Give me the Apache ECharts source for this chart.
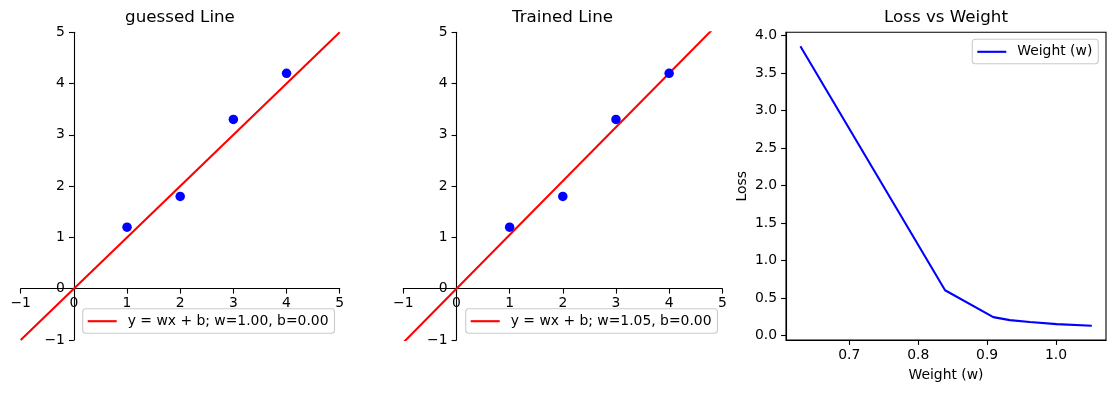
<!DOCTYPE html>
<html>
<head>
<meta charset="utf-8">
<script src="https://cdn.jsdelivr.net/npm/echarts@6/dist/echarts.min.js"></script>
<style>
  html, body { margin: 0; padding: 0; background: #fff; }
  #chart { width: 1115px; height: 393px; }
</style>
</head>
<body>
<div id="chart"></div>
<script>
// ---- data ----
const pointsX = [1, 2, 3, 4];
const pointsY = [1.2, 1.8, 3.3, 4.2];
const lineX = [-1, 5];
const guessedLineY = [-1, 5];
const trainedLineY = [-1.05, 5.25];
const guessedLabel = 'y = wx + b; w=1.00, b=0.00';
const trainedLabel = 'y = wx + b; w=1.05, b=0.00';
const weights = [0.629, 0.839, 0.909, 0.933, 0.962, 1.001, 1.052];
const losses = [3.858, 0.606, 0.248, 0.208, 0.182, 0.155, 0.133];
const lossXTicks = [0.7, 0.8, 0.9, 1.0];
const lossYTicks = [0.0, 0.5, 1.0, 1.5, 2.0, 2.5, 3.0, 3.5, 4.0];

// ---- styles ----
const FONT = 'DejaVu Sans';
const FS = 13.9;
const AXW = 1.1;
const GRID_W = 319, GRID_H = 307.7;
const minusFmt = v => (v < 0 ? '\u2212' + Math.abs(v) : String(v));
const zip = (a, b) => a.map((v, i) => [v, b[i]]);

// spines placed at data zero: shift axis inward by the distance from the grid edge to zero
function lineAxis(isX) {
  const zeroOffset = isX ? -GRID_H * (1 / 6) : -GRID_W * (1 / 6);
  return {
    type: 'value', min: -1, max: 5, interval: 1,
    position: isX ? 'bottom' : 'left',
    offset: zeroOffset,
    splitLine: { show: false },
    axisLine: { show: true, onZero: false, lineStyle: { color: '#000', width: AXW } },
    axisTick: { show: true, length: 4.9, lineStyle: { color: '#000', width: AXW } },
    axisLabel: { color: '#000', fontFamily: FONT, fontSize: FS, margin: isX ? 8 : 9, formatter: minusFmt }
  };
}

const gridBase = { top: 32.3, height: GRID_H, width: GRID_W, containLabel: false, outerBoundsMode: 'none' };

function legendFor(name, pos) {
  return Object.assign({
    data: [{ name: name, icon: 'rect' }],
    orient: 'horizontal',
    itemWidth: 29, itemHeight: 2.1,
    padding: [5.5, 6, 5, 5],
    backgroundColor: 'rgba(255,255,255,0.8)',
    borderColor: '#cccccc', borderWidth: 1.1, borderRadius: 3,
    textStyle: { color: '#000', fontFamily: FONT, fontSize: FS, padding: [0, 0, 0, 6] },
    selectedMode: false
  }, pos);
}

const titleStyle = { color: '#000', fontFamily: FONT, fontSize: 16.7, fontWeight: 'normal' };

const option = {
  animation: false,
  backgroundColor: '#fff',
  title: [
    { text: 'guessed Line', left: 180, top: 9, textAlign: 'center', padding: 0, textStyle: titleStyle },
    { text: 'Trained Line', left: 562.5, top: 9, textAlign: 'center', padding: 0, textStyle: titleStyle },
    { text: 'Loss vs Weight', left: 946, top: 9, textAlign: 'center', padding: 0, textStyle: titleStyle }
  ],
  legend: [
    legendFor(guessedLabel, { left: 82.7, top: 308.7 }),
    legendFor(trainedLabel, { left: 465.7, top: 308.7 }),
    legendFor('Weight (w)', { right: 16.7, top: 39.3 })
  ],
  grid: [
    Object.assign({ left: 20.7 }, gridBase),
    Object.assign({ left: 403.3 }, gridBase),
    { left: 786, top: 32.3, width: 320, height: GRID_H, containLabel: false, outerBoundsMode: 'none',
      show: true, borderColor: '#000', borderWidth: AXW, backgroundColor: 'transparent' }
  ],
  xAxis: [
    Object.assign({ gridIndex: 0 }, lineAxis(true)),
    Object.assign({ gridIndex: 1 }, lineAxis(true)),
    {
      gridIndex: 2, type: 'value', min: 0.6081, max: 1.0726,
      name: 'Weight (w)', nameLocation: 'middle', nameGap: 28,
      nameTextStyle: { color: '#000', fontFamily: FONT, fontSize: FS },
      splitLine: { show: false },
      axisLine: { show: true, onZero: false, lineStyle: { color: '#000', width: AXW } },
      axisTick: { show: true, length: 4.9, customValues: lossXTicks, lineStyle: { color: '#000', width: AXW } },
      axisLabel: { color: '#000', fontFamily: FONT, fontSize: FS, margin: 8, customValues: lossXTicks,
        formatter: v => v.toFixed(1) }
    }
  ],
  yAxis: [
    Object.assign({ gridIndex: 0 }, lineAxis(false)),
    Object.assign({ gridIndex: 1 }, lineAxis(false)),
    {
      gridIndex: 2, type: 'value', min: -0.057, max: 4.045,
      name: 'Loss', nameLocation: 'middle', nameGap: 37, nameRotate: 90,
      nameTextStyle: { color: '#000', fontFamily: FONT, fontSize: FS },
      splitLine: { show: false },
      axisLine: { show: true, onZero: false, lineStyle: { color: '#000', width: AXW } },
      axisTick: { show: true, length: 4.9, customValues: lossYTicks, lineStyle: { color: '#000', width: AXW } },
      axisLabel: { color: '#000', fontFamily: FONT, fontSize: FS, margin: 9, customValues: lossYTicks,
        formatter: v => v.toFixed(1) }
    }
  ],
  series: [
    { type: 'scatter', xAxisIndex: 0, yAxisIndex: 0, data: zip(pointsX, pointsY),
      symbolSize: 9.5, itemStyle: { color: '#0000ff', opacity: 1 }, z: 3 },
    { name: guessedLabel, type: 'line', xAxisIndex: 0, yAxisIndex: 0, data: zip(lineX, guessedLineY),
      showSymbol: false, symbol: 'none', clip: true, color: '#ff0000', lineStyle: { color: '#ff0000', width: 2.08 }, z: 2 },
    { type: 'scatter', xAxisIndex: 1, yAxisIndex: 1, data: zip(pointsX, pointsY),
      symbolSize: 9.5, itemStyle: { color: '#0000ff', opacity: 1 }, z: 3 },
    { name: trainedLabel, type: 'line', xAxisIndex: 1, yAxisIndex: 1, data: zip(lineX, trainedLineY),
      showSymbol: false, symbol: 'none', clip: true, color: '#ff0000', lineStyle: { color: '#ff0000', width: 2.08 }, z: 2 },
    { name: 'Weight (w)', type: 'line', xAxisIndex: 2, yAxisIndex: 2, data: zip(weights, losses),
      showSymbol: false, symbol: 'none', clip: true, color: '#0000ff', lineStyle: { color: '#0000ff', width: 2.08 } }
  ]
};

const chart = echarts.init(document.getElementById('chart'), null, { renderer: 'canvas' });
chart.setOption(option);
</script>
</body>
</html>
